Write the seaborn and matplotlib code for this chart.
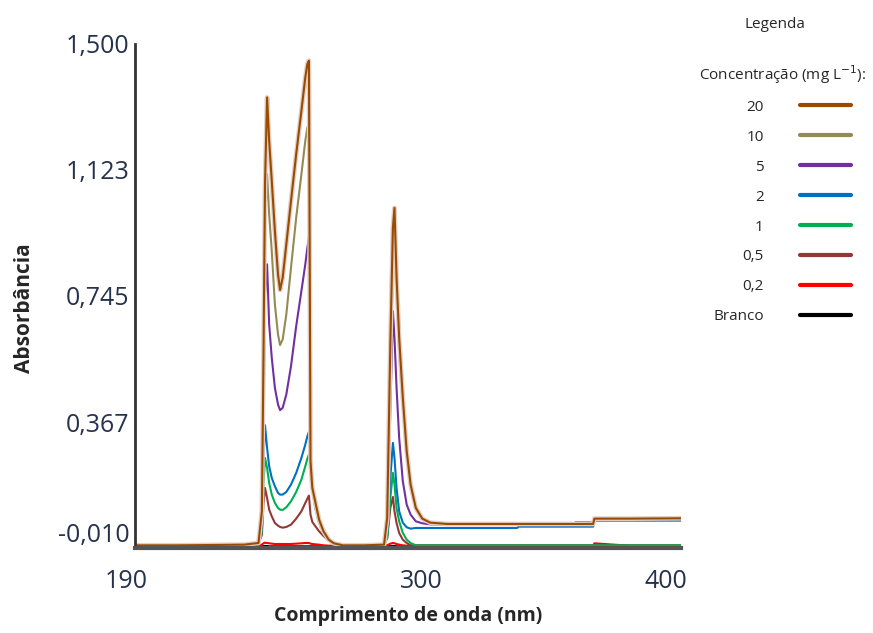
import pandas as pd
import matplotlib
matplotlib.use("Agg")
import matplotlib.pyplot as plt
import matplotlib.transforms as mtransforms
import matplotlib.patheffects as pe
from matplotlib.colors import to_hex
import seaborn as sns

# Espectros (comprimento de onda em nm, absorbância)
wavelength = [190, 205, 220, 232, 237.5, 238.8, 239.4, 240.0, 240.8, 241.6,
              242.6, 243.8, 245.0, 245.8, 246.8, 248.2, 250.0, 252.0, 254.0, 255.5,
              256.3, 256.9, 257.5, 258.2, 259.3, 260.8, 262.5, 264.5, 266.5, 270,
              278, 285.8, 287.0, 288.2, 289.2, 289.8, 290.6, 291.6, 293.0, 294.5,
              296.0, 298.0, 300.5, 303.5, 310, 337, 337.5, 359, 359.5, 366.2,
              366.7, 380, 400]

abs_20 = [-0.002, -0.002, -0.001, 0.000, 0.005, 0.10, 0.55, 1.08, 1.340, 1.21,
          1.09, 0.94, 0.81, 0.763, 0.80, 0.90, 1.03, 1.17, 1.30, 1.40,
          1.44, 1.45, 0.25, 0.17, 0.13, 0.075, 0.040, 0.015, 0.004, -0.002,
          -0.002, 0.000, 0.08, 0.60, 0.95, 1.009, 0.80, 0.62, 0.44, 0.28,
          0.18, 0.11, 0.078, 0.066, 0.062, 0.062, 0.062, 0.062, 0.062, 0.062,
          0.078, 0.078, 0.079]
abs_10 = [-0.002, -0.002, -0.001, 0.000, 0.004, 0.08, 0.45, 0.95, 1.11, 0.99,
          0.88, 0.72, 0.63, 0.598, 0.615, 0.69, 0.83, 0.98, 1.11, 1.21,
          1.25, 1.26, 0.24, 0.165, 0.125, 0.072, 0.038, 0.014, 0.003, -0.002,
          -0.002, 0.000, 0.06, 0.50, 0.83, 0.874, 0.76, 0.58, 0.42, 0.27,
          0.175, 0.105, 0.075, 0.064, 0.060, 0.060, 0.060, 0.060, 0.060, 0.060,
          0.077, 0.077, 0.077]
abs_5 = [-0.002, -0.002, -0.001, 0.000, 0.003, 0.06, 0.35, 0.75, 0.84, 0.66,
         0.56, 0.47, 0.42, 0.403, 0.41, 0.45, 0.535, 0.655, 0.76, 0.84,
         0.89, 0.92, 0.23, 0.16, 0.12, 0.07, 0.036, 0.013, 0.003, -0.002,
         -0.002, 0.000, 0.05, 0.40, 0.70, 0.62, 0.47, 0.32, 0.19, 0.12,
         0.09, 0.07, 0.064, 0.061, 0.060, 0.060, 0.060, 0.060, 0.067, 0.067,
         0.077, 0.077, 0.077]
abs_2 = [-0.002, -0.002, -0.001, 0.000, 0.002, 0.05, 0.25, 0.358, 0.29, 0.235,
         0.20, 0.175, 0.155, 0.150, 0.150, 0.158, 0.180, 0.215, 0.26, 0.30,
         0.325, 0.338, 0.26, 0.18, 0.12, 0.075, 0.042, 0.018, 0.005, -0.002,
         -0.002, 0.000, 0.03, 0.20, 0.305, 0.26, 0.17, 0.10, 0.066, 0.052,
         0.048, 0.050, 0.050, 0.050, 0.050, 0.050, 0.054, 0.054, 0.054, 0.054,
         0.072, 0.072, 0.072]
abs_1 = [-0.002, -0.002, -0.001, 0.000, 0.002, 0.04, 0.18, 0.26, 0.23, 0.185,
         0.15, 0.125, 0.110, 0.105, 0.104, 0.112, 0.130, 0.158, 0.195, 0.235,
         0.258, 0.270, 0.275, 0.17, 0.11, 0.065, 0.032, 0.012, 0.002, -0.002,
         -0.002, 0.000, 0.02, 0.14, 0.215, 0.18, 0.11, 0.07, 0.035, 0.015,
         0.005, -0.002, -0.002, -0.002, -0.002, -0.002, -0.002, -0.002, -0.002, -0.002,
         -0.002, -0.002, -0.002]
abs_05 = [-0.002, -0.002, -0.001, 0.000, 0.002, 0.03, 0.12, 0.170, 0.14, 0.105,
          0.085, 0.065, 0.057, 0.053, 0.051, 0.053, 0.060, 0.078, 0.100, 0.125,
          0.138, 0.147, 0.090, 0.068, 0.056, 0.040, 0.026, 0.012, 0.003, -0.002,
          -0.002, 0.000, 0.02, 0.11, 0.143, 0.10, 0.065, 0.035, 0.015, 0.005,
          -0.002, -0.002, -0.002, -0.002, -0.002, -0.002, -0.002, -0.002, -0.002, -0.002,
          -0.002, -0.002, -0.002]
abs_02 = [-0.003, -0.003, -0.003, -0.003, -0.003, 0.000, 0.004, 0.006, 0.005, 0.004,
          0.003, 0.002, 0.002, 0.002, 0.002, 0.002, 0.002, 0.003, 0.004, 0.005,
          0.005, 0.005, 0.003, 0.002, 0.001, 0.000, -0.002, -0.003, -0.003, -0.003,
          -0.003, -0.003, -0.002, 0.003, 0.005, 0.004, 0.002, 0.000, -0.002, -0.003,
          -0.003, -0.003, -0.003, -0.003, -0.003, -0.003, -0.003, -0.003, -0.003, -0.003,
          0.004, -0.003, -0.003]
abs_branco = [-0.005, -0.005, -0.005, -0.005, -0.005, -0.005, -0.004, -0.004, -0.004, -0.005,
              -0.005, -0.005, -0.005, -0.005, -0.005, -0.005, -0.005, -0.005, -0.005, -0.005,
              -0.005, -0.005, -0.005, -0.005, -0.005, -0.005, -0.005, -0.005, -0.005, -0.005,
              -0.005, -0.005, -0.005, -0.004, -0.004, -0.004, -0.005, -0.005, -0.005, -0.005,
              -0.005, -0.005, -0.005, -0.005, -0.005, -0.005, -0.005, -0.005, -0.005, -0.005,
              -0.005, -0.005, -0.005]

concentracoes = ["20", "10", "5", "2", "1", "0,5", "0,2", "Branco"]
series = [abs_20, abs_10, abs_5, abs_2, abs_1, abs_05, abs_02, abs_branco]
cores = ["#9a4b00", "#948a54", "#7030a0", "#0070c0",
         "#00b050", "#953735", "#ff0000", "#000000"]

y_ticks = [-0.010, 0.367, 0.745, 1.123, 1.500]
y_ticklabels = ["-0,010", "0,367", "0,745", "1,123", "1,500"]
x_ticks = [190, 300, 400]
x_ticklabels = ["190", "300", "400"]

df = pd.concat([pd.DataFrame({"nm": wavelength, "abs": vals, "conc": c})
                for c, vals in zip(concentracoes, series)], ignore_index=True)

sns.set_style("white")
plt.rcParams["font.family"] = ["Open Sans", "DejaVu Sans"]

fig = plt.figure(figsize=(8.73, 6.33), dpi=100)
ax = fig.add_axes([135 / 873, 85 / 633, 546 / 873, 504 / 633])

sns.lineplot(data=df, x="nm", y="abs", hue="conc", hue_order=concentracoes[::-1],
             palette=dict(zip(concentracoes, cores)), sort=False, estimator=None,
             linewidth=1.5, ax=ax)

# halo claro na curva mais concentrada, como no original
for line in ax.lines:
    if len(line.get_xdata()) and to_hex(line.get_color()) == cores[0]:
        line.set_path_effects([pe.Stroke(linewidth=3.4, foreground="#e2cfc6"), pe.Normal()])

ax.set_xlim(190, 400)
ax.set_ylim(-0.010, 1.500)
ax.set_xticks(x_ticks)
ax.set_xticklabels(x_ticklabels)
ax.set_yticks(y_ticks)
ax.set_yticklabels(y_ticklabels)

ax.tick_params(axis="y", direction="in", length=11, width=1.5, pad=4,
               labelsize=18, labelcolor="#25324d", color="#222222")
ax.tick_params(axis="x", direction="in", length=9, width=1.5, pad=15,
               labelsize=18, labelcolor="#25324d", color="#222222")
ax.xaxis.get_major_ticks()[0].tick1line.set_visible(False)

for s in ["top", "right"]:
    ax.spines[s].set_visible(False)
ax.spines["left"].set_linewidth(2)
ax.spines["left"].set_color("#333333")
ax.spines["bottom"].set_linewidth(3)
ax.spines["bottom"].set_color("#555555")

ax.set_xlabel("Comprimento de onda (nm)", fontsize=14, fontweight="bold")
ax.set_ylabel("Absorbância", fontsize=15, fontweight="bold")
ax.xaxis.set_label_coords(0.5, -0.115)
ax.yaxis.set_label_coords(-0.183, 0.476)

# ajustes finos das posições dos rótulos
ylabs = ax.get_yticklabels()
ylabs[0].set_verticalalignment("bottom")
xlabs = ax.get_xticklabels()
for lab, dx in zip(xlabs, [-9, 0, -15]):
    lab.set_transform(lab.get_transform() +
                      mtransforms.ScaledTranslation(dx / 100, 0, fig.dpi_scale_trans))

# legenda
handles, labels = ax.get_legend_handles_labels()
ax.get_legend().remove()
leg = ax.legend(handles[::-1], labels[::-1],
                loc="upper center", bbox_to_anchor=(782 / 873, 1 - 92 / 633),
                bbox_transform=fig.transFigure, frameon=False, fontsize=11,
                markerfirst=False, handlelength=3.3,
                handletextpad=2.4, labelspacing=0.98, borderpad=0)
for h in leg.legend_handles:
    h.set_linewidth(3)
fig.text(775 / 873, 1 - 24 / 633, "Legenda", ha="center", va="center", fontsize=11)
fig.text(782 / 873, 1 - 75 / 633, "Concentração (mg L$^{-1}$):",
         ha="center", va="center", fontsize=11)

fig.savefig("out.png", dpi=100)
